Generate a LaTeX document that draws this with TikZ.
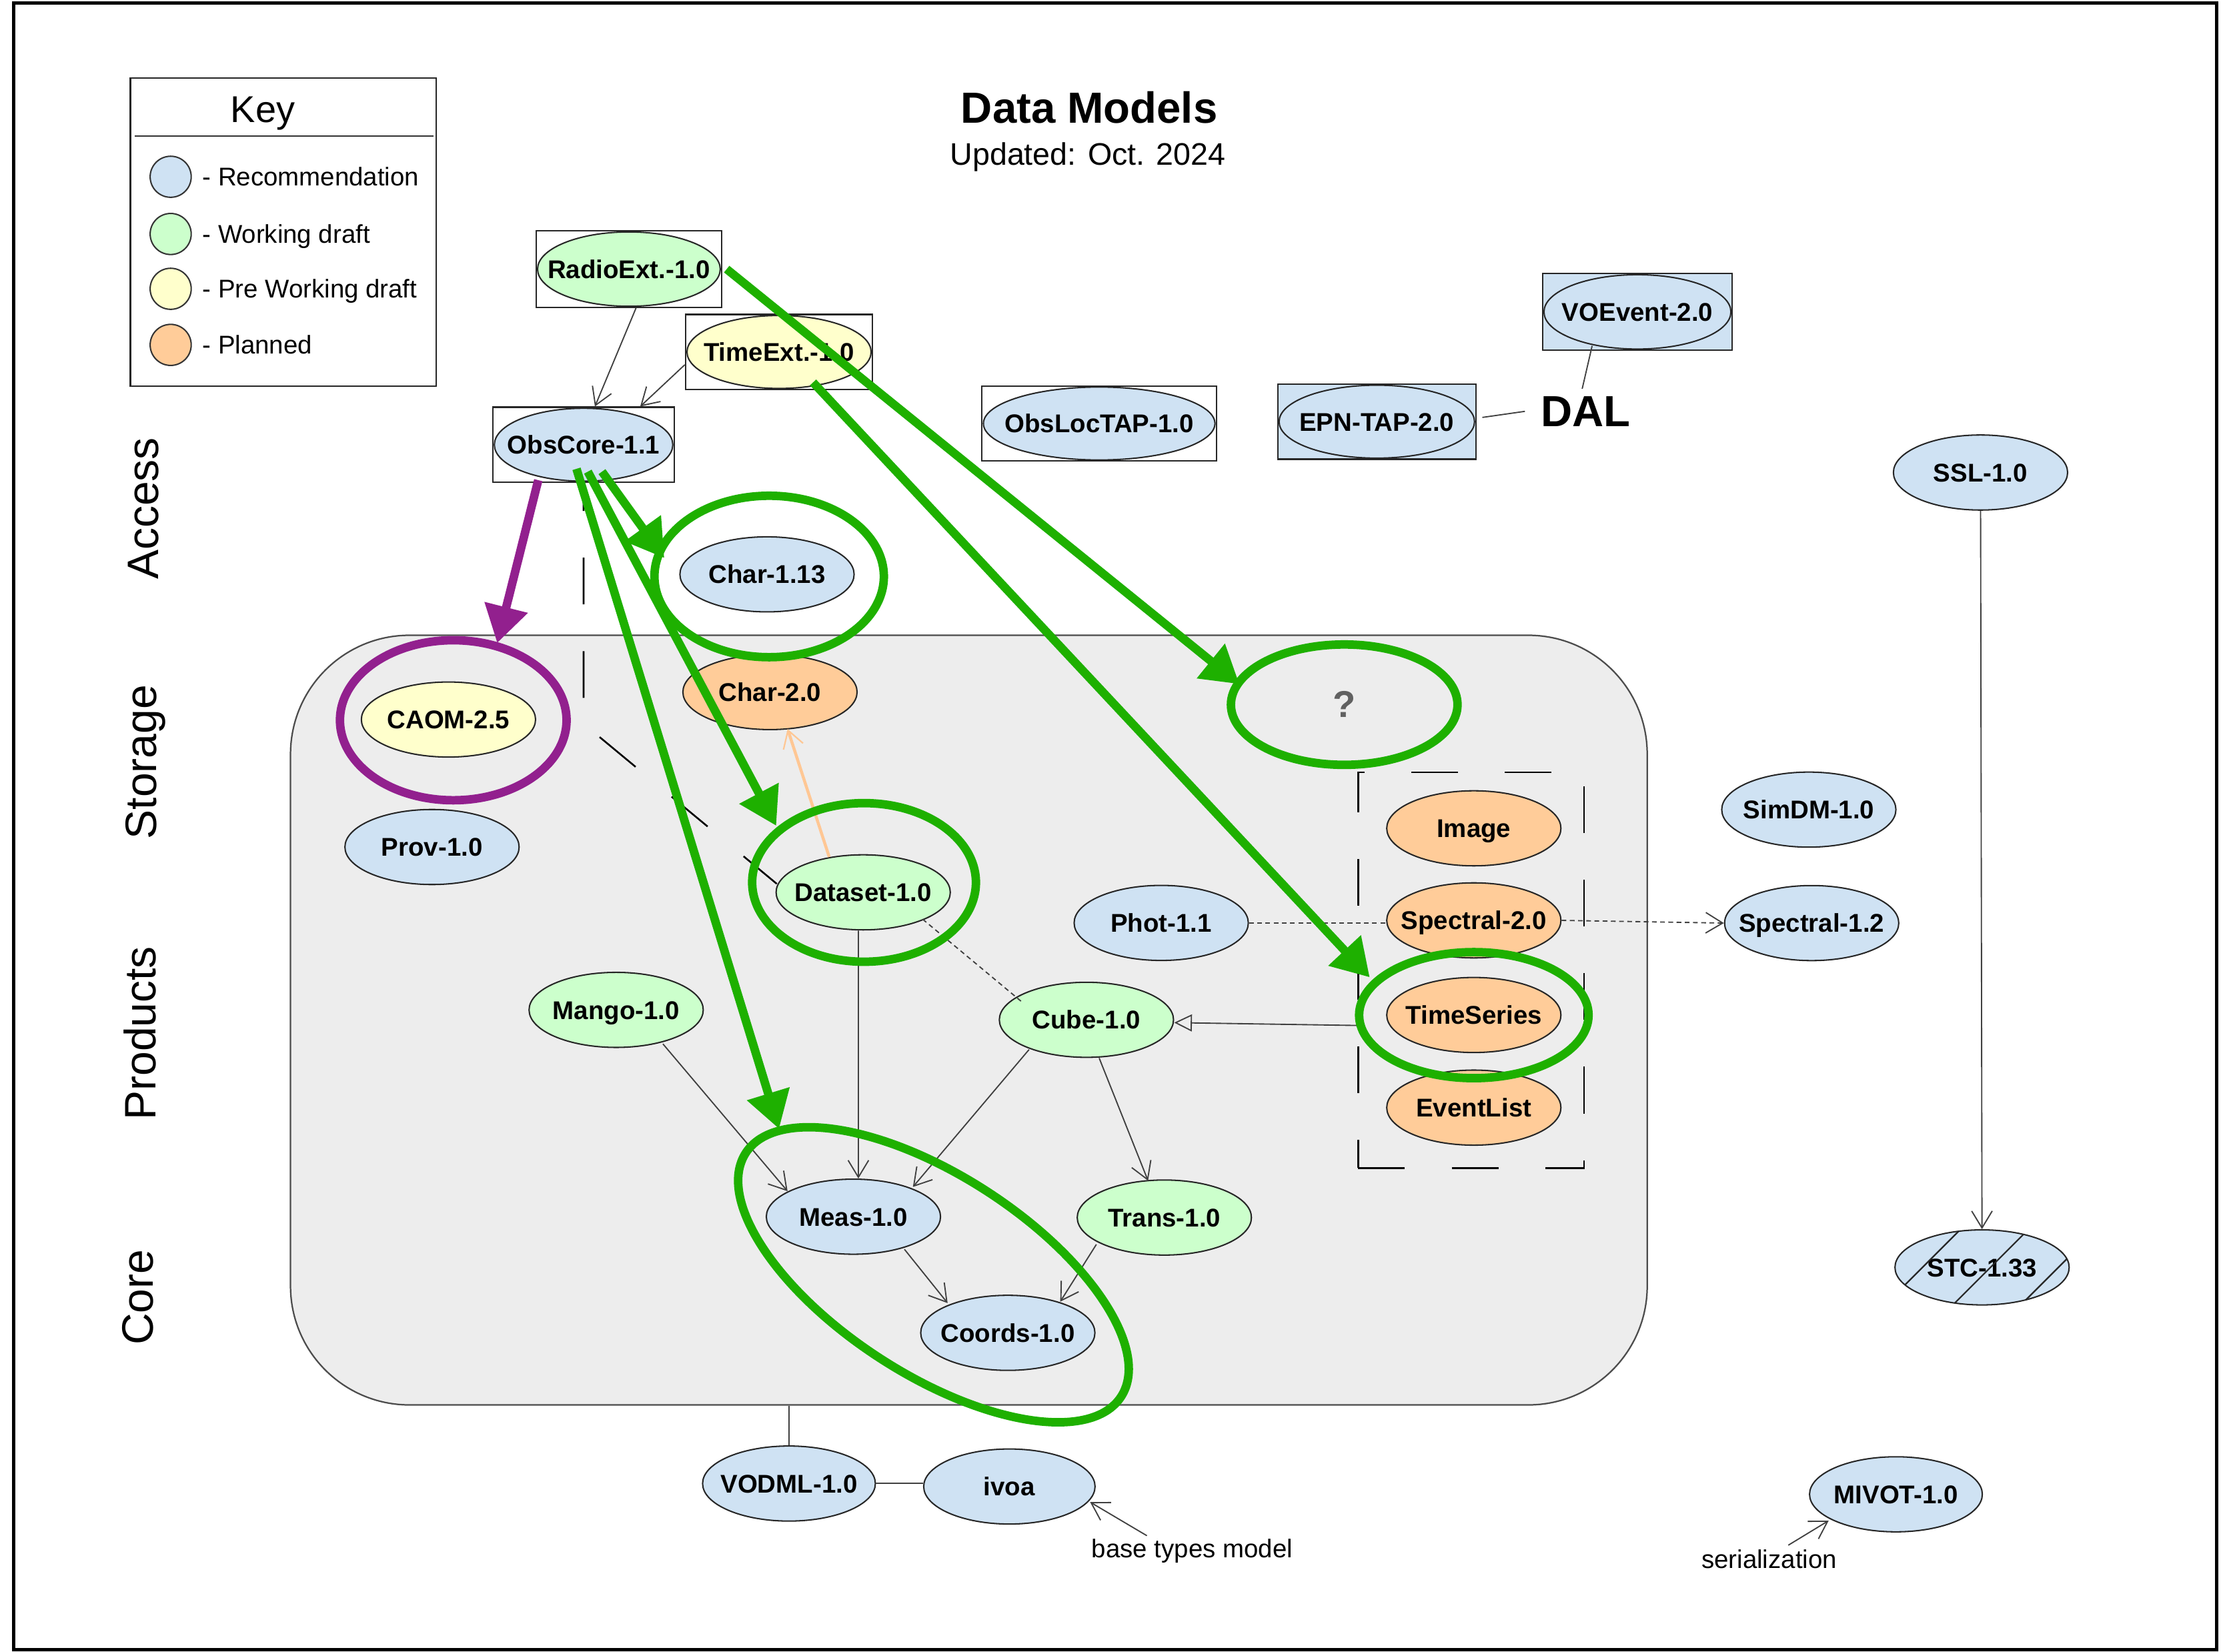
\documentclass[tikz,border=0pt]{standalone}
\usepackage{fontspec}
\setmainfont{Liberation Sans}
\usetikzlibrary{shapes.geometric,arrows.meta,calc}

\definecolor{recblue}{RGB}{207,226,243}
\definecolor{wdgreen}{RGB}{204,255,204}
\definecolor{pwdyellow}{RGB}{255,255,204}
\definecolor{planorange}{RGB}{255,204,153}
\definecolor{regiongray}{RGB}{237,237,237}
\definecolor{hlgreen}{RGB}{30,176,0}
\definecolor{hlpurple}{RGB}{146,32,142}
\definecolor{linkorange}{RGB}{255,199,148}

% label set in a zero-width box so that it never enlarges the ellipse
\newcommand\dmlabel[1]{\makebox[0pt]{#1}}

\tikzset{
  model/.style={ellipse, draw=black!85, line width=0.55pt, inner sep=0pt,
    minimum width=2.46cm, minimum height=1.06cm,
    font=\fontsize{10.3}{12}\selectfont\bfseries,
    text height=7.4pt, text depth=0pt},
  rec/.style={model, fill=recblue},
  wd/.style={model, fill=wdgreen},
  pwd/.style={model, fill=pwdyellow},
  plan/.style={model, fill=planorange},
  framebox/.style={rectangle, draw=black!85, line width=0.6pt, inner sep=0pt, fill=white},
  dmlink/.style={draw=black!75, line width=0.5pt},
  linkarrow/.style={dmlink, -{Straight Barb[length=2.4mm, width=2.9mm]}},
  dotlink/.style={dmlink, dash pattern=on 1.9pt off 1.4pt},
  longdash/.style={draw=black, line width=0.7pt, dash pattern=on 0.66cm off 0.66cm},
  genarrow/.style={dmlink, -{Triangle[open, length=2.5mm, width=2.4mm]}},
  hlring/.style={ellipse, draw=hlgreen, line width=0.12cm, inner sep=0pt, outer sep=0pt},
  hlarrow/.style={draw=hlgreen, line width=0.12cm, -{Triangle[length=0.52cm, width=0.6cm]}},
  plainlabel/.style={inner sep=0pt, font=\fontsize{10.3}{12}\selectfont},
  layerlabel/.style={inner sep=0pt, rotate=90, anchor=base, font=\fontsize{17.7}{20}\selectfont},
  keydot/.style={circle, draw=black!80, line width=0.55pt, minimum size=0.58cm, inner sep=0pt},
}

\begin{document}
\begin{tikzpicture}[x=0.02cm, y=-0.02cm]
\path[use as bounding box] (0,0) rectangle (1568,1166.3);

% frame
\draw[line width=1.2pt] (9.6,2.2) rectangle (1565,1164.6);

% title
\node[inner sep=0pt, anchor=base, font=\fontsize{17.5}{20}\selectfont\bfseries] (title) at (769,87) {Data Models};
\node[inner sep=0pt, anchor=base, font=\fontsize{12.5}{15}\selectfont] (updated) at (768,116.7) {Updated: Oct. 2024};

% key
\node[draw=black!85, line width=0.6pt, minimum width=4.32cm, minimum height=4.35cm, inner sep=0pt] (keybox) at (200,163.8) {};
\draw[black!80, line width=0.6pt] (95,96) -- (306,96);
\node[inner sep=0pt, anchor=base, font=\fontsize{15}{18}\selectfont] (keytitle) at (185.5,86.3) {Key};
\node[keydot, fill=recblue] (keyrec) at (120.5,124.8) {};
\node[keydot, fill=wdgreen] (keywd) at (120.5,165.2) {};
\node[keydot, fill=pwdyellow] (keypwd) at (120.5,203.9) {};
\node[keydot, fill=planorange] (keyplan) at (120.5,243.5) {};
\node[plainlabel, anchor=base west] (keyreclbl) at (142.6,131) {- Recommendation};
\node[plainlabel, anchor=base west] (keywdlbl) at (142.6,171.4) {- Working draft};
\node[plainlabel, anchor=base west] (keypwdlbl) at (142.6,210.1) {- Pre Working draft};
\node[plainlabel, anchor=base west] (keyplanlbl) at (142.6,249.7) {- Planned};

% layer labels
\node[layerlabel] (access) at (112,359) {Access};
\node[layerlabel] (storage) at (110.5,538) {Storage};
\node[layerlabel] (products) at (110,729.5) {Products};
\node[layerlabel] (core) at (108,916) {Core};

% shaded area holding the storage / product / core models
\node[rectangle, rounded corners=1.68cm, draw=black!70, line width=0.6pt, fill=regiongray,
      minimum width=19.16cm, minimum height=10.87cm, inner sep=0pt] (region) at (684,720.2) {};

% dashed group of planned product models
\node[rectangle, longdash, minimum width=3.19cm, minimum height=5.59cm, inner sep=0pt] (group) at (1038.6,684.9) {};

% access models (framed)
\node[framebox, minimum width=2.62cm, minimum height=1.08cm] (radiobox) at (444,190) {};
\node[wd, minimum width=2.58cm, minimum height=1.05cm] (radio) at (444,190) {\dmlabel{RadioExt.-1.0}};
\node[framebox, minimum width=2.64cm, minimum height=1.06cm] (timebox) at (550,248.5) {};
\node[pwd, minimum width=2.6cm, minimum height=1.03cm] (timeext) at (550,248.5) {\dmlabel{TimeExt.-1.0}};
\node[framebox, minimum width=2.56cm, minimum height=1.06cm] (obscorebox) at (412,314) {};
\node[rec, minimum width=2.52cm, minimum height=1.03cm] (obscore) at (412,314) {\dmlabel{ObsCore-1.1}};
\node[framebox, minimum width=3.32cm, minimum height=1.06cm] (obslocbox) at (776,299) {};
\node[rec, minimum width=3.27cm, minimum height=1.03cm] (obsloc) at (776,299) {\dmlabel{ObsLocTAP-1.0}};
\node[framebox, fill=recblue, minimum width=2.8cm, minimum height=1.06cm] (epnbox) at (972,297.7) {};
\node[rec, minimum width=2.76cm, minimum height=1.03cm] (epn) at (972,297.7) {\dmlabel{EPN-TAP-2.0}};
\node[framebox, fill=recblue, minimum width=2.68cm, minimum height=1.08cm] (voebox) at (1156,220.2) {};
\node[rec, minimum width=2.64cm, minimum height=1.05cm] (voevent) at (1156,220.2) {\dmlabel{VOEvent-2.0}};
\node[inner sep=0pt, anchor=base, font=\fontsize{17.5}{20}\selectfont\bfseries] (dal) at (1119.5,301) {DAL};

% models
\node[rec] (char113) at (541.5,405.5) {\dmlabel{Char-1.13}};
\node[plan] (char20) at (543.6,488.6) {\dmlabel{Char-2.0}};
\node[pwd] (caom) at (316.6,508) {\dmlabel{CAOM-2.5}};
\node[rec] (prov) at (305,598) {\dmlabel{Prov-1.0}};
\node[wd] (dataset) at (609.4,630) {\dmlabel{Dataset-1.0}};
\node[rec] (phot) at (819.8,651.6) {\dmlabel{Phot-1.1}};
\node[wd] (mango) at (435,713) {\dmlabel{Mango-1.0}};
\node[wd] (cube) at (767,720) {\dmlabel{Cube-1.0}};
\node[rec] (meas) at (602.5,859) {\dmlabel{Meas-1.0}};
\node[wd] (trans) at (822,859.6) {\dmlabel{Trans-1.0}};
\node[rec] (coords) at (711.5,941) {\dmlabel{Coords-1.0}};
\node[plan] (image) at (1040.5,584.8) {\dmlabel{Image}};
\node[plan] (spectral20) at (1040.5,649.8) {\dmlabel{Spectral-2.0}};
\node[plan] (timeseries) at (1040.5,716.6) {\dmlabel{TimeSeries}};
\node[plan] (eventlist) at (1040.5,782) {\dmlabel{EventList}};
\node[rec] (simdm) at (1277,571.6) {\dmlabel{SimDM-1.0}};
\node[rec] (spectral12) at (1279,651.7) {\dmlabel{Spectral-1.2}};
\node[rec] (ssl) at (1398.2,333.6) {\dmlabel{SSL-1.0}};
\node[rec] (stc) at (1399.3,894.8) {\dmlabel{STC-1.33}};
\node[rec, minimum width=2.44cm] (vodml) at (557,1047.4) {\dmlabel{VODML-1.0}};
\node[rec, minimum width=2.42cm] (ivoa) at (712.6,1049.5) {\dmlabel{ivoa}};
\node[rec, minimum width=2.44cm] (mivot) at (1338.5,1055) {\dmlabel{MIVOT-1.0}};
\node[inner sep=0pt, font=\fontsize{15}{18}\selectfont\bfseries, text=black!62] (qmark) at (949,497) {?};

% hatching of the superseded STC model
\begin{scope}
  \clip (stc.center) ellipse [x radius=1.23cm, y radius=0.53cm];
  \draw[black!85, line width=0.6pt]
    (1402,850) -- (1312,940)
    (1450,850) -- (1360,940)
    (1498,850) -- (1408,940);
\end{scope}

% annotations
\node[plainlabel, anchor=base] (basetypes) at (841.7,1099.7) {base types model};
\node[plainlabel, anchor=base] (serial) at (1249,1107.4) {serialization};

% relations
\draw[linkarrow] ($(radiobox.south)+(5,0)$) -- ($(obscorebox.north)+(8,0)$);
\draw[linkarrow] ($(timebox.west)+(0,9)$) -- ($(obscorebox.north)+(40,0)$);
\coordinate (dashbend) at (412,511);
\draw[longdash, dash phase=0.25cm] (obscore.south) -- (dashbend) -- ($(dataset)+(-61,-6)$);
\draw[dmlink] ($(voevent)+(-32,24)$) -- ($(dal.north)+(-2.5,-5)$);
\draw[dmlink] ($(epnbox.east)+(4,-3)$) -- ($(dal.west)+(-11,0)$);
\draw[linkarrow] (ssl) -- (stc);
\draw[linkarrow] ($(dataset.south)+(-3.4,0)$) -- ($(meas.north)+(3.5,0)$);
\draw[linkarrow] ($(mango)+(33,24)$) -- ($(meas)+(-46.5,-18)$);
\draw[linkarrow] ($(cube)+(-40.5,21)$) -- ($(meas)+(42,-21)$);
\draw[linkarrow] ($(cube)+(9,27)$) -- ($(trans)+(-11.5,-26)$);
\draw[linkarrow] ($(meas)+(36,23)$) -- ($(coords)+(-42.5,-21)$);
\draw[linkarrow] ($(trans)+(-48,19)$) -- ($(coords)+(37,-22)$);
\draw[dotlink] ($(dataset)+(42,19)$) -- ($(cube)+(-46,-13)$);
\draw[dotlink] (phot.east) -- (spectral20.west |- phot.east);
\draw[dotlink, -{Straight Barb[length=2.4mm, width=2.9mm]}] (spectral20.east) -- (spectral12.west);
\draw[genarrow] ($(group.west |- cube.east)+(0,4)$) -- ($(cube.east)+(0,2)$);
\draw[linkorange, line width=1.2pt, -{Straight Barb[length=2.4mm, width=2.9mm, line width=0.6pt]}]
  ($(dataset)+(-24,-25)$) -- ($(char20)+(12.4,26)$);
\draw[dmlink] (vodml.north |- region.south) -- (vodml.north);
\draw[dmlink] (vodml.east) -- (ivoa.west |- vodml.east);
\draw[linkarrow] ($(basetypes.north)+(-32,-2)$) -- ($(ivoa)+(57,11)$);
\draw[linkarrow] ($(serial.north)+(13.5,-3)$) -- ($(mivot)+(-47.5,18.6)$);

% highlight rings
\node[hlring, minimum width=3.24cm, minimum height=2.28cm] (char113ring) at (543,407) {};
\node[hlring, draw=hlpurple, minimum width=3.2cm, minimum height=2.26cm] (caomring) at (320,508.5) {};
\node[hlring, minimum width=3.16cm, minimum height=2.24cm] (datasetring) at (610,623) {};
\node[hlring, minimum width=3.2cm, minimum height=1.7cm] (qring) at (949,497.5) {};
\node[hlring, minimum width=3.24cm, minimum height=1.78cm] (tsring) at (1040.5,716.7) {};
\node[hlring, rotate=-33, minimum width=6.32cm, minimum height=2.8cm] (corering) at (659,900) {};

% highlight arrows
\draw[hlarrow, draw=hlpurple] ($(obscore)+(-32,25)$) -- ($(caomring)+(31,-54.5)$);
\draw[hlarrow] ($(obscore)+(13,19)$) -- ($(char113ring)+(-74,-13)$);
\draw[hlarrow] ($(obscore)+(3,19)$) -- ($(datasetring)+(-62,-40)$);
\draw[hlarrow] ($(obscore)+(-5,17)$) -- ($(corering)+(-109,-103)$);
\draw[hlarrow] ($(radiobox.east)+(3,0)$) -- ($(qring)+(-74,-14.5)$);
\draw[hlarrow] ($(timeext)+(24,21.5)$) -- ($(tsring)+(-73.5,-26.7)$);
\end{tikzpicture}
\end{document}
